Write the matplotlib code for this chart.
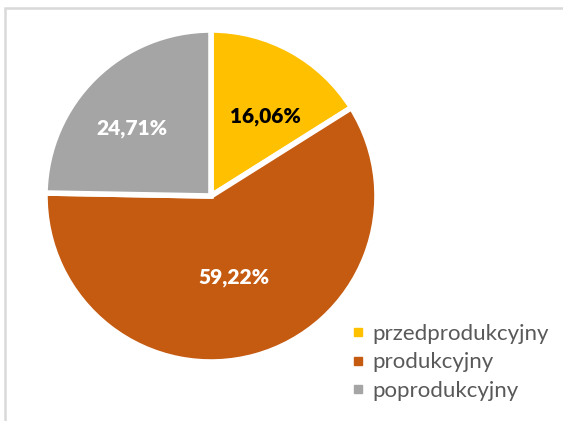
import numpy as np
import matplotlib.pyplot as plt
from matplotlib.patches import Rectangle
from matplotlib.lines import Line2D

plt.rcParams['font.family'] = ['Lato', 'DejaVu Sans']

# data
categories = ['przedprodukcyjny', 'produkcyjny', 'poprodukcyjny']
shares = [16.06, 59.22, 24.71]
colors = ['#FFC000', '#C55A11', '#A5A5A5']
label_colors = ['black', 'white', 'white']
# label placement inside each slice (distance from centre, angle tweak in degrees)
label_dist = [0.58, 0.51, 0.63]
label_shift = [-5.5, 0, 5]

fig = plt.figure(figsize=(5.63, 4.21), dpi=100)

# light frame like the Excel chart area
fig.patches.append(Rectangle((5 / 563, -0.1), 2, 1 - 8 / 421 + 0.1,
                             transform=fig.transFigure, fill=False,
                             edgecolor='#D9D9D9', linewidth=1.8))

ax = fig.add_axes([(211 - 166) / 563, (421 - 196 - 166) / 421, 332 / 563, 332 / 421])
wedges, _ = ax.pie(shares, colors=colors, startangle=90, counterclock=False,
                   radius=1, wedgeprops=dict(edgecolor='white', linewidth=4))
ax.set_xlim(-1, 1)
ax.set_ylim(-1, 1)
ax.axis('off')

for w, v, c, d, s in zip(wedges, shares, label_colors, label_dist, label_shift):
    ang = np.deg2rad((w.theta1 + w.theta2) / 2 + s)
    txt = f"{v:.2f}".replace('.', ',') + '%'
    ax.text(d * np.cos(ang), d * np.sin(ang), txt, ha='center', va='center',
            fontsize=15, fontweight='heavy', color=c)

handles = [Line2D([], [], marker='s', linestyle='none', markersize=6,
                  markerfacecolor=c, markeredgecolor=c) for c in colors]
leg = fig.legend(handles, categories, loc='upper left',
                 bbox_to_anchor=(331 / 563, 1 - 304 / 421), frameon=False,
                 fontsize=16, handlelength=0.6, handletextpad=0.35,
                 labelspacing=0.38, labelcolor='#595959')

fig.savefig('out.png', dpi=100)
